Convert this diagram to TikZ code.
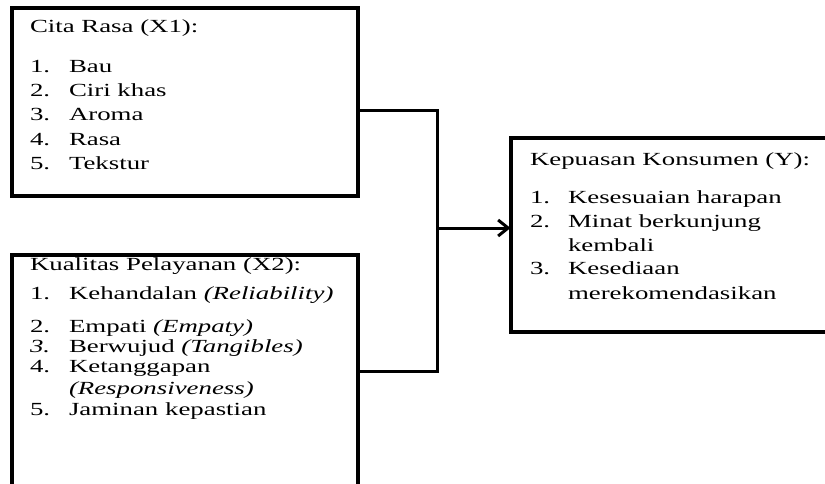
\documentclass[tikz,border=0pt]{standalone}
\usepackage{graphicx}
\usepackage{fontspec}
\setmainfont{Liberation Serif}
\usetikzlibrary{arrows.meta}
\newcommand{\wide}[1]{\scalebox{1.45}[1]{#1}}
\begin{document}
\begin{tikzpicture}[x=1pt,y=-1pt,
  box/.style={draw=black,line width=4pt,inner sep=0pt,outer sep=0pt,rectangle},
  txt/.style={anchor=base west,inner sep=0pt,outer sep=0pt,font=\fontsize{18.5}{24}\selectfont},
  link/.style={draw=black,line width=3pt,line join=miter},
  tip/.style={-{Straight Barb[length=10pt,width=16pt]}}
]
\useasboundingbox (0,0) rectangle (825,484);
\begin{scope}
\clip (0,0) rectangle (825,484);
% boxes
\node[box,minimum width=345.5pt,minimum height=188.3pt] (b1) at (184.75,101.85) {};
\node[box,minimum width=345.5pt,minimum height=245pt] (b2) at (184.75,377.5) {};
\node[box,minimum width=329.5pt,minimum height=194pt] (b3) at (675.25,235) {};
% junction points
\coordinate (j1) at (437,110.5);
\coordinate (j2) at (437,371.5);
\coordinate (jm) at (437,228);
\draw[link] (b1.east |- j1) -- (j1) -- (j2) -- (b2.east |- j2);
\draw[link,tip] (jm) -- (b3.west |- jm);
\end{scope}
% box 1 text
\node[txt] (h1) at (30,33) {\wide{Cita Rasa (X1):}};
\node[txt] (n11) at (30,73) {\wide{1.}};
\node[txt] (a11) at (69,73) {\wide{Bau}};
\node[txt] (n12) at (30,97) {\wide{2.}};
\node[txt] (a12) at (69,97) {\wide{Ciri khas}};
\node[txt] (n13) at (30,121) {\wide{3.}};
\node[txt] (a13) at (69,121) {\wide{Aroma}};
\node[txt] (n14) at (30,146) {\wide{4.}};
\node[txt] (a14) at (69,146) {\wide{Rasa}};
\node[txt] (n15) at (30,170) {\wide{5.}};
\node[txt] (a15) at (69,170) {\wide{Tekstur}};
% box 2 text
\node[txt] (h2) at (30,270) {\wide{Kualitas Pelayanan (X2):}};
\node[txt] (n21) at (30,299) {\wide{1.}};
\node[txt] (a21) at (69,299) {\wide{Kehandalan \textit{(Reliability)}}};
\node[txt] (n22) at (30,332) {\wide{2.}};
\node[txt] (a22) at (69,332) {\wide{Empati \textit{(Empaty)}}};
\node[txt] (n23) at (30,352) {\wide{\textit{3.}}};
\node[txt] (a23) at (69,352) {\wide{Berwujud \textit{(Tangibles)}}};
\node[txt] (n24) at (30,372) {\wide{4.}};
\node[txt] (a24) at (69,372) {\wide{Ketanggapan}};
\node[txt] (a24b) at (69,394) {\wide{\textit{(Responsiveness)}}};
\node[txt] (n25) at (30,415) {\wide{5.}};
\node[txt] (a25) at (69,415) {\wide{Jaminan kepastian}};
% box 3 text
\node[txt] (h3) at (530,166) {\wide{Kepuasan Konsumen (Y):}};
\node[txt] (n31) at (530,204) {\wide{1.}};
\node[txt] (a31) at (568,204) {\wide{Kesesuaian harapan}};
\node[txt] (n32) at (530,227) {\wide{2.}};
\node[txt] (a32) at (568,227) {\wide{Minat berkunjung}};
\node[txt] (a32b) at (568,251) {\wide{kembali}};
\node[txt] (n33) at (530,274) {\wide{3.}};
\node[txt] (a33) at (568,274) {\wide{Kesediaan}};
\node[txt] (a33b) at (568,299) {\wide{merekomendasikan}};
\end{tikzpicture}
\end{document}
